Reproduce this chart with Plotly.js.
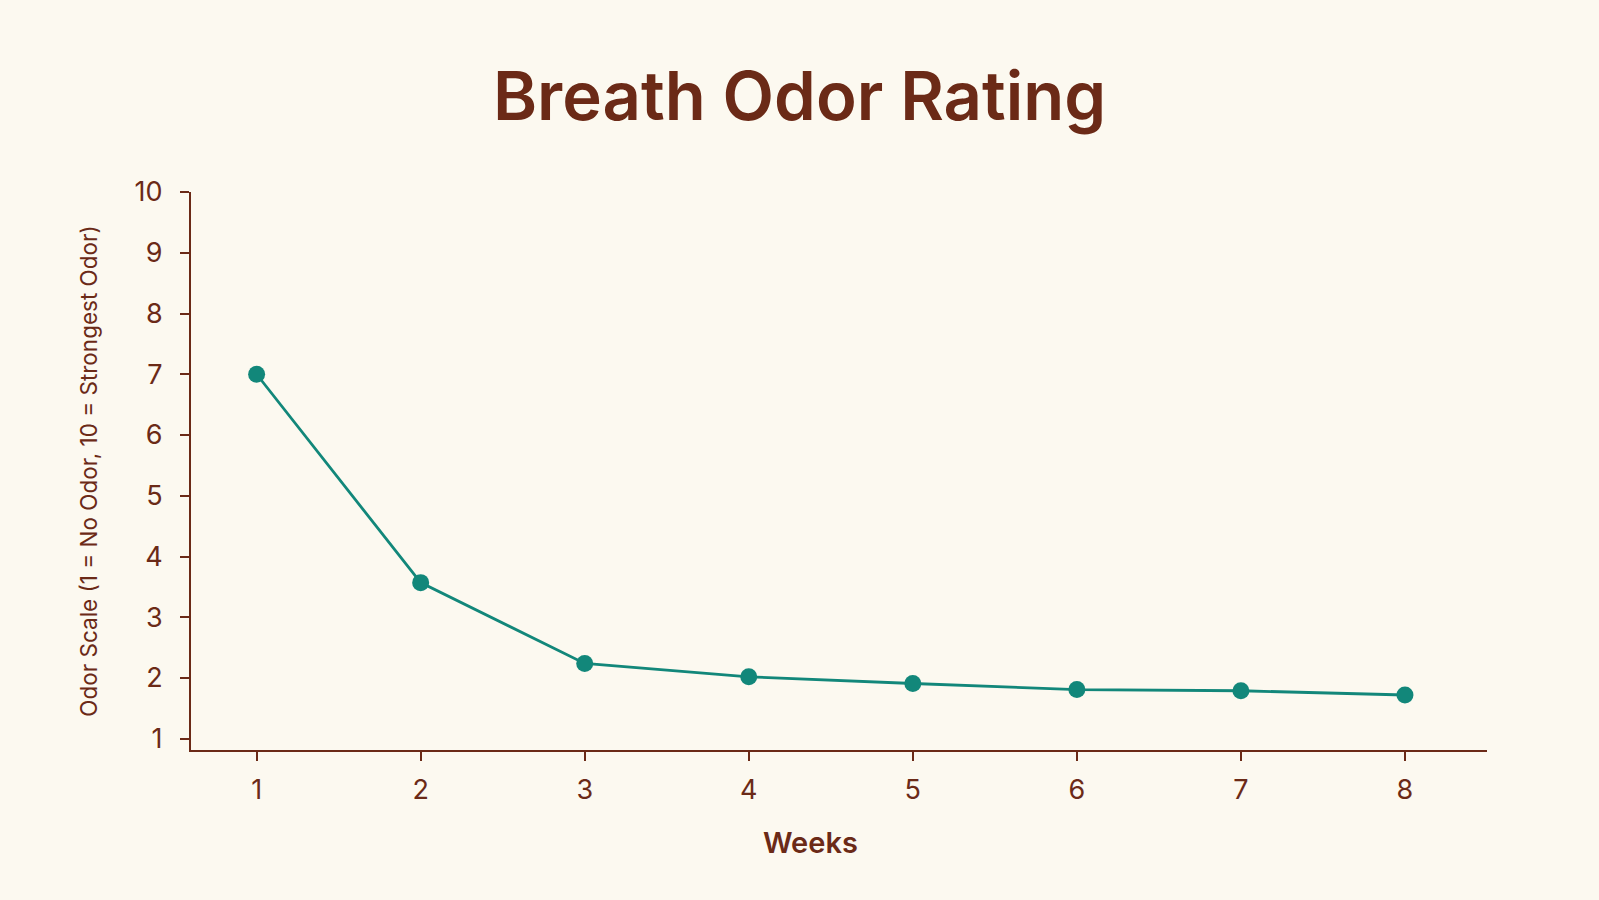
<!DOCTYPE html>
<html>
<head>
<meta charset="utf-8">
<script src="https://cdn.plot.ly/plotly-3.0.1.min.js"></script>
<style>
  html, body { margin: 0; padding: 0; background: #fcf9f0; }
  #odor_chart { width: 1599px; height: 900px; }
</style>
</head>
<body>
<div id="odor_chart"></div>
<script>
//----------------------------- Breath odor rating over weeks -----------------------------//
var weeks = [1, 2, 3, 4, 5, 6, 7, 8];
var odor_rating = [7.0, 3.57, 2.24, 2.02, 1.91, 1.81, 1.79, 1.72];
var y_ticks = [1, 2, 3, 4, 5, 6, 7, 8, 9, 10];

var brown = "#6b2a17";
var teal = "#12877a";

var trace1 = {
  x: weeks,
  y: odor_rating,
  type: 'scatter',
  mode: 'lines+markers',
  line: {color: teal, width: 2.8},
  marker: {color: teal, size: 17},
  hoverinfo: 'x+y'
};

var layout1 = {
  width: 1599,
  height: 900,
  paper_bgcolor: "#fcf9f0",
  plot_bgcolor: "#fcf9f0",
  font: {family: "Inter, 'Noto Sans', sans-serif", color: brown},
  title: {
    text: "Breath Odor Rating",
    font: {size: 67, color: brown, weight: 600},
    x: 0.5, xanchor: 'center',
    y: 0.893, yanchor: 'middle'
  },
  margin: {l: 191, r: 112, t: 192, b: 150},
  showlegend: false,
  xaxis: {
    range: [0.6, 8.5],
    tickvals: weeks,
    ticks: 'outside', ticklen: 9, tickwidth: 1.5, tickcolor: brown,
    ticklabelstandoff: 6,
    tickfont: {size: 27},
    showline: true, linecolor: brown, linewidth: 2,
    showgrid: false, zeroline: false, fixedrange: true
  },
  yaxis: {
    title: {text: "Odor Scale (1 = No Odor, 10 = Strongest Odor)", font: {size: 22.5}, standoff: 31},
    range: [0.815, 10],
    tickvals: y_ticks,
    ticks: 'outside', ticklen: 9, tickwidth: 1.5, tickcolor: brown,
    ticklabelstandoff: 12,
    tickfont: {size: 27},
    showline: true, linecolor: brown, linewidth: 2,
    showgrid: false, zeroline: false, fixedrange: true
  },
  annotations: [{
    text: "Weeks",
    xref: 'paper', yref: 'paper',
    x: 0.478, y: -0.165,
    xanchor: 'center', yanchor: 'middle',
    showarrow: false,
    font: {size: 29, weight: 600, color: brown}
  }]
};

var config = {responsive: false, displayModeBar: false};
Plotly.newPlot("odor_chart", [trace1], layout1, config);
</script>
</body>
</html>
